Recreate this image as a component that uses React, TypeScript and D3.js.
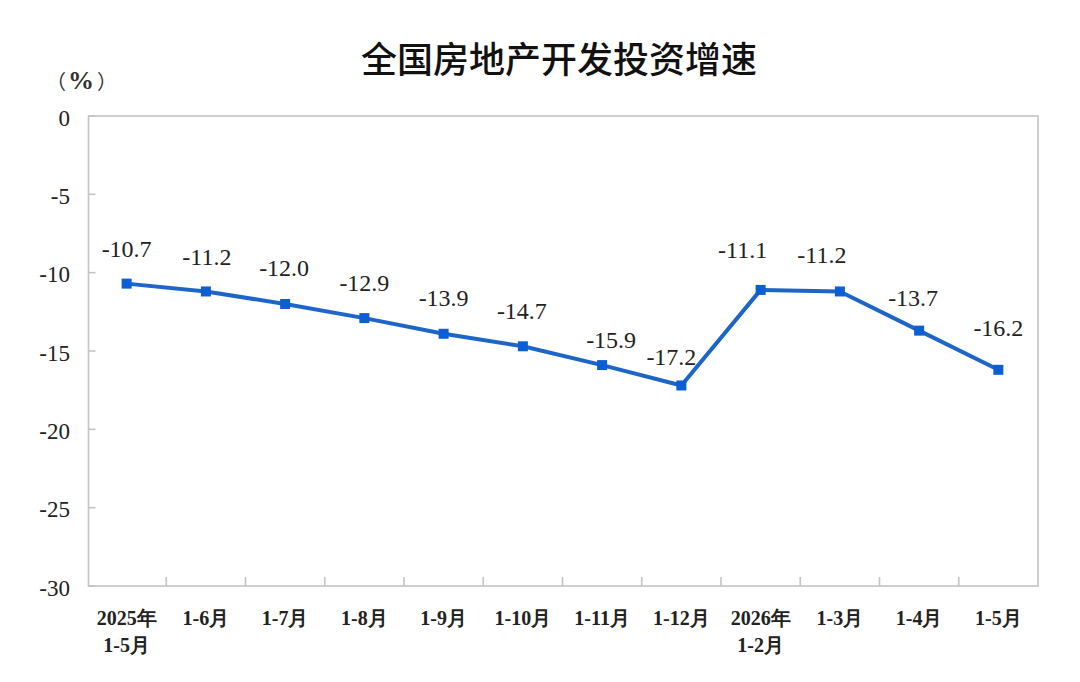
import React from "react";
import * as d3 from "d3";

const title = "全国房地产开发投资增速";
const unitLabel = ["（", "%", "）"];
const categories: string[][] = [
  ["2025年", "1-5月"],
  ["1-6月"],
  ["1-7月"],
  ["1-8月"],
  ["1-9月"],
  ["1-10月"],
  ["1-11月"],
  ["1-12月"],
  ["2026年", "1-2月"],
  ["1-3月"],
  ["1-4月"],
  ["1-5月"],
];
const values = [-10.7, -11.2, -12.0, -12.9, -13.9, -14.7, -15.9, -17.2, -11.1, -11.2, -13.7, -16.2];
const yTicks = [0, -5, -10, -15, -20, -25, -30];
// label nudges (layout only)
const labelDx = [0, 1, -1, 0, 0, -1, 9, -10, -18, -18, -6, 0];
const labelDy = [-27, -26, -28, -27, -28, -27, -17, -20, -32, -28, -25, -34];

const W = 1080;
const H = 682;
const plot = { left: 87, right: 1038, top: 116, bottom: 586 };
const axisColor = "#c4c4c4";
const lineColor = "#1d66c8";
const markerColor = "#0b5fd2";
const textColor = "#222";
const serif = "Liberation Serif, Times New Roman, serif";
const cjk = "Noto Sans CJK SC, sans-serif";

export default function App() {
  const x = d3
    .scaleBand<number>()
    .domain(d3.range(categories.length))
    .range([plot.left, plot.right])
    .paddingInner(0)
    .paddingOuter(0);
  const y = d3.scaleLinear().domain([-30, 0]).range([plot.bottom, plot.top]);
  const cx = (i: number) => (x(i) as number) + x.bandwidth() / 2;

  const line = d3
    .line<number>()
    .x((_, i) => cx(i))
    .y((d) => y(d));

  const axisX = plot.left + 1.5;

  return (
    <svg
      width={W}
      height={H}
      style={{ position: "absolute", left: 0, top: 0, background: "#fff" }}
    >
      <rect x={0} y={0} width={W} height={H} fill="#fff" />
      <text
        x={559}
        y={73}
        textAnchor="middle"
        fontFamily={cjk}
        fontSize={36}
        fontWeight={500}
        fill="#111"
      >
        {title}
      </text>
      <text x={46} y={89} fill="#333" fontFamily={cjk} fontSize={20}>
        <tspan>{unitLabel[0]}</tspan>
        <tspan x={68} fontFamily={serif} fontSize={26} fontWeight="bold">
          {unitLabel[1]}
        </tspan>
        <tspan x={97}>{unitLabel[2]}</tspan>
      </text>

      {/* frame */}
      <rect
        x={axisX}
        y={plot.top}
        width={plot.right - axisX}
        height={plot.bottom - plot.top}
        fill="none"
        stroke={axisColor}
        strokeWidth={1.6}
      />

      {/* y ticks */}
      {yTicks.map((t) => (
        <g key={t}>
          <line
            x1={axisX}
            x2={axisX + 7}
            y1={y(t)}
            y2={y(t)}
            stroke={axisColor}
            strokeWidth={1.6}
          />
          <text
            x={70}
            y={y(t) + 2}
            textAnchor="end"
            dominantBaseline="central"
            fontFamily={serif}
            fontSize={23}
            fill={textColor}
          >
            {t}
          </text>
        </g>
      ))}

      {/* x ticks */}
      {d3.range(1, categories.length).map((i) => (
        <line
          key={i}
          x1={x(i) as number}
          x2={x(i) as number}
          y1={plot.bottom}
          y2={plot.bottom - 9}
          stroke={axisColor}
          strokeWidth={1.6}
        />
      ))}

      {/* x labels */}
      {categories.map((lines, i) => (
        <text
          key={i}
          x={cx(i)}
          y={625}
          textAnchor="middle"
          fontFamily={serif}
          fontSize={20}
          fontWeight="bold"
          fill={textColor}
        >
          {lines.map((l, j) => (
            <tspan key={j} x={cx(i)} dy={j === 0 ? 0 : 27}>
              {l}
            </tspan>
          ))}
        </text>
      ))}

      {/* line */}
      <path
        d={line(values) || ""}
        fill="none"
        stroke={lineColor}
        strokeWidth={4}
        strokeLinejoin="round"
      />
      {values.map((v, i) => (
        <rect
          key={i}
          x={cx(i) - 5}
          y={y(v) - 5}
          width={10}
          height={10}
          fill={markerColor}
        />
      ))}

      {/* data labels */}
      {values.map((v, i) => (
        <text
          key={i}
          x={cx(i) + labelDx[i]}
          y={y(v) + labelDy[i]}
          textAnchor="middle"
          fontFamily={serif}
          fontSize={24}
          fill={textColor}
        >
          {v.toFixed(1)}
        </text>
      ))}
    </svg>
  );
}
